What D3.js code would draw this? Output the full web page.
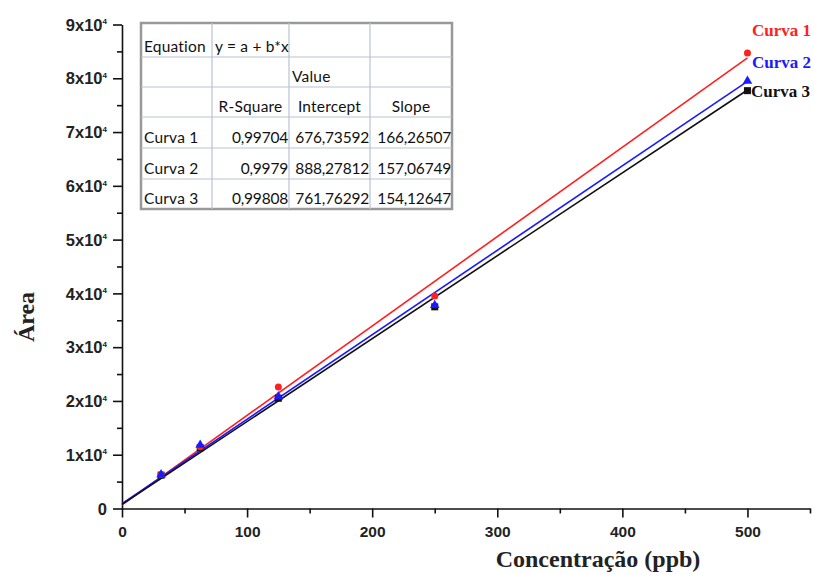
<!DOCTYPE html>
<html>
<head>
<meta charset="utf-8">
<script src="https://cdn.jsdelivr.net/npm/d3@7"></script>
<style>
  body { margin: 0; background: #fff; }
  svg { display: block; }
</style>
</head>
<body>
<div id="chart"></div>
<script>
// data
const conc = [31.25, 62.5, 125, 250, 500]
const curva1 = [6300, 11500, 22600, 39500, 84700]
const curva2 = [6300, 11800, 20800, 37800, 79500]
const curva3 = [6200, 11300, 20500, 37500, 77700]

// linear fits (y = a + b*x) as given in the table
const curveNames = ["Curva 1", "Curva 2", "Curva 3"]
const rSquare = ["0,99704", "0,9979", "0,99808"]
const intercepts = [676.73592, 888.27812, 761.76292]
const slopes = [166.26507, 157.06749, 154.12647]
const interceptLabels = ["676,73592", "888,27812", "761,76292"]
const slopeLabels = ["166,26507", "157,06749", "154,12647"]

const xTicks = [0, 100, 200, 300, 400, 500]
const yTicks = [0, 10000, 20000, 30000, 40000, 50000, 60000, 70000, 80000, 90000]

var width = 814, height = 574
var colors = ["#ff2020", "#1a1aff", "#111111"]
var sans = "'Liberation Sans', Arial, sans-serif"
var serif = "'Liberation Serif', 'Times New Roman', serif"

var svg = d3.select("#chart").append("svg")
    .attr("width", width)
    .attr("height", height)

var x = d3.scaleLinear().domain([0, 550]).range([122, 810])
var y = d3.scaleLinear().domain([0, 90000]).range([508.5, 24.5])

// minor ticks first
svg.append("g")
    .attr("transform", "translate(0," + y(0) + ")")
    .call(d3.axisBottom(x).tickValues(d3.range(50, 551, 100)).tickSize(5).tickFormat(""))
    .call(g => g.select(".domain").remove())
svg.append("g")
    .attr("transform", "translate(" + x(0) + ",0)")
    .call(d3.axisLeft(y).tickValues(d3.range(5000, 90000, 10000)).tickSize(5).tickFormat(""))
    .call(g => g.select(".domain").remove())

// major axes
var xAxis = svg.append("g")
    .attr("transform", "translate(0," + y(0) + ")")
    .call(d3.axisBottom(x).tickValues(xTicks).tickSize(9).tickSizeOuter(0).tickPadding(8))
var yAxis = svg.append("g")
    .attr("transform", "translate(" + x(0) + ",0)")
    .call(d3.axisLeft(y).tickValues(yTicks).tickSize(9).tickSizeOuter(0).tickPadding(6).tickFormat(""))

svg.selectAll(".domain, .tick line").attr("stroke", "#111").attr("stroke-width", 1.6)

xAxis.selectAll("text")
    .style("font-family", sans)
    .style("font-weight", "bold")
    .style("font-size", "15.5px")
    .attr("fill", "#222")

// y labels like 9x10^4
yAxis.selectAll(".tick text")
    .style("font-family", sans)
    .style("font-weight", "bold")
    .style("font-size", "16.5px")
    .attr("fill", "#222")
    .attr("dy", "0.34em")
    .each(function(d) {
        var t = d3.select(this)
        if (d === 0) { t.text("0"); return }
        t.append("tspan").text((d / 10000) + "x10")
        t.append("tspan").attr("dy", "-0.8em").style("font-size", "8px").text("4")
    })

// axis titles
svg.append("text")
    .attr("transform", "translate(34,317) rotate(-90)")
    .attr("text-anchor", "middle")
    .style("font-family", serif)
    .style("font-weight", "bold")
    .style("font-size", "24px")
    .attr("fill", "#222")
    .text("Área")
svg.append("text")
    .attr("x", 598)
    .attr("y", 567)
    .attr("text-anchor", "middle")
    .style("font-family", serif)
    .style("font-weight", "bold")
    .style("font-size", "24px")
    .attr("fill", "#222")
    .text("Concentração (ppb)")

// fit lines
var fits = curveNames.map((n, i) => ({ name: n, a: intercepts[i], b: slopes[i], color: colors[i] }))
svg.append("g").selectAll("line")
    .data(fits)
    .enter()
    .append("line")
    .attr("x1", x(0))
    .attr("y1", d => y(d.a))
    .attr("x2", x(500))
    .attr("y2", d => y(d.a + d.b * 500))
    .attr("stroke", d => d.color)
    .attr("stroke-width", 1.6)

// points: squares (curva 3), circles (curva 1), triangles (curva 2)
var pts = svg.append("g")
pts.selectAll("rect")
    .data(conc.map((c, i) => [c, curva3[i]]))
    .enter()
    .append("rect")
    .attr("x", d => x(d[0]) - 3.5)
    .attr("y", d => y(d[1]) - 3.5)
    .attr("width", 7)
    .attr("height", 7)
    .attr("fill", colors[2])
pts.selectAll("circle")
    .data(conc.map((c, i) => [c, curva1[i]]))
    .enter()
    .append("circle")
    .attr("cx", d => x(d[0]))
    .attr("cy", d => y(d[1]))
    .attr("r", 3.5)
    .attr("fill", colors[0])
pts.selectAll("path")
    .data(conc.map((c, i) => [c, curva2[i]]))
    .enter()
    .append("path")
    .attr("transform", d => "translate(" + x(d[0]) + "," + y(d[1]) + ")")
    .attr("d", d3.symbol().type(d3.symbolTriangle).size(40))
    .attr("fill", colors[1])

// curve labels at the right
var labelPos = [[752, 36], [752, 68], [751, 97]]
svg.append("g").selectAll("text")
    .data(curveNames)
    .enter()
    .append("text")
    .attr("x", (d, i) => labelPos[i][0])
    .attr("y", (d, i) => labelPos[i][1])
    .style("font-family", serif)
    .style("font-weight", "bold")
    .style("font-size", "17px")
    .attr("fill", (d, i) => colors[i])
    .text(d => d)

// fit table
var colX = [141, 212, 289, 370, 452]
var rowY = [23, 57, 87, 117, 148, 179, 209]
var table = svg.append("g")
table.append("rect")
    .attr("x", colX[0]).attr("y", rowY[0])
    .attr("width", colX[4] - colX[0]).attr("height", rowY[6] - rowY[0])
    .attr("fill", "#fff")
    .attr("stroke", "#999").attr("stroke-width", 2.5)
table.selectAll(".vline")
    .data(colX.slice(1, 4))
    .enter()
    .append("line")
    .attr("x1", d => d).attr("x2", d => d)
    .attr("y1", rowY[0]).attr("y2", rowY[6])
    .attr("stroke", "#b9c3d3").attr("stroke-width", 1.2)
table.selectAll(".hline")
    .data(rowY.slice(1, 6))
    .enter()
    .append("line")
    .attr("x1", colX[0]).attr("x2", colX[4])
    .attr("y1", d => d).attr("y2", d => d)
    .attr("stroke", "#b9c3d3").attr("stroke-width", 1.2)

var cells = [
    { r: 0, c: 0, t: "Equation", a: "start" },
    { r: 0, c: 1, t: "y = a + b*x", a: "start" },
    { r: 1, c: 2, t: "Value", a: "start" },
    { r: 2, c: 1, t: "R-Square", a: "middle" },
    { r: 2, c: 2, t: "Intercept", a: "middle" },
    { r: 2, c: 3, t: "Slope", a: "middle" }
]
curveNames.forEach((n, i) => {
    cells.push({ r: 3 + i, c: 0, t: n, a: "start" })
    cells.push({ r: 3 + i, c: 1, t: rSquare[i], a: "end" })
    cells.push({ r: 3 + i, c: 2, t: interceptLabels[i], a: "end" })
    cells.push({ r: 3 + i, c: 3, t: slopeLabels[i], a: "end" })
})
table.selectAll("text")
    .data(cells)
    .enter()
    .append("text")
    .attr("x", d => d.a === "start" ? colX[d.c] + 3 : d.a === "end" ? colX[d.c + 1] - 1 : (colX[d.c] + colX[d.c + 1]) / 2)
    .attr("y", d => rowY[d.r + 1] - 5.5)
    .attr("text-anchor", d => d.a)
    .style("font-family", "Lato, 'Open Sans', sans-serif")
    .style("font-size", "15.5px")
    .style("letter-spacing", d => d.c === 0 || d.r < 3 ? "0.2px" : "-0.2px")
    .attr("fill", "#111")
    .text(d => d.t)
</script>
</body>
</html>
